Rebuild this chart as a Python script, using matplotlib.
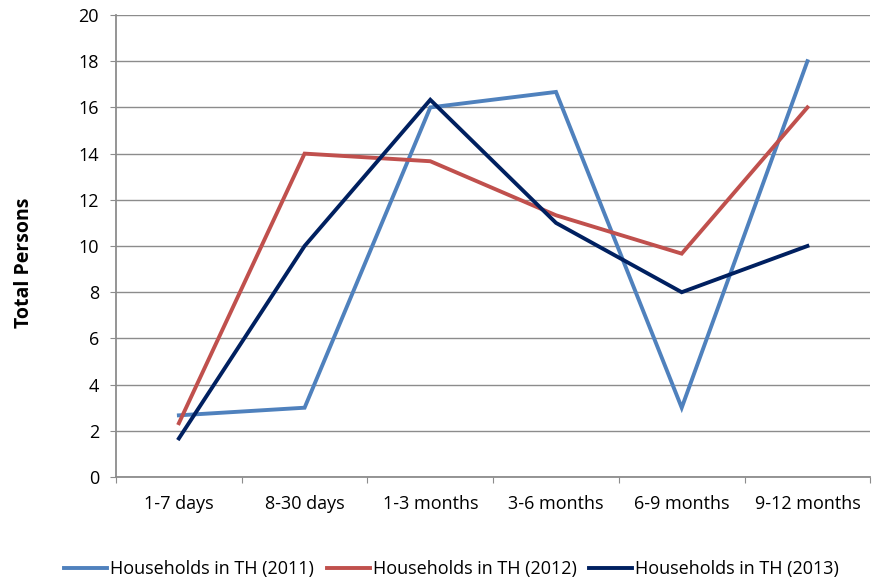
import matplotlib
matplotlib.use("Agg")
import matplotlib.pyplot as plt
import numpy as np

plt.rcParams['font.family'] = ['Open Sans', 'DejaVu Sans']

categories = ["1-7 days", "8-30 days", "1-3 months", "3-6 months", "6-9 months", "9-12 months"]
th_2011 = [2.67, 3.0, 16.0, 16.67, 3.0, 18.0]
th_2012 = [2.33, 14.0, 13.67, 11.33, 9.67, 16.0]
th_2013 = [1.67, 10.0, 16.33, 11.0, 8.0, 10.0]

series = [("Households in TH (2011)", th_2011, "#4F81BD"),
          ("Households in TH (2012)", th_2012, "#C0504D"),
          ("Households in TH (2013)", th_2013, "#002060")]

fig = plt.figure(figsize=(8.75, 5.84), dpi=100)
ax = fig.add_axes([0.1326, 0.1832, 0.862, 0.7911])

x = np.arange(len(categories)) + 0.5
for name, vals, clr in series:
    ax.plot(x, vals, color=clr, lw=2.8, label=name, solid_joinstyle="miter")

ax.set_xlim(0, len(categories))
ax.set_ylim(0, 20)
ax.set_yticks(np.arange(0, 21, 2))
ax.yaxis.grid(True, color="#8c8c8c", lw=1)
ax.set_axisbelow(True)

# category boundaries get the tick marks, labels sit in between
ax.set_xticks(np.arange(0, len(categories) + 1))
ax.set_xticklabels([])
ax.set_xticks(x, minor=True)
ax.set_xticklabels(categories, minor=True)
ax.tick_params(axis="x", which="major", length=4.3, color="#8c8c8c")
ax.tick_params(axis="x", which="minor", length=0, pad=13, labelsize=13)
ax.tick_params(axis="y", length=4.3, color="#8c8c8c", labelsize=13, pad=8)

for s in ["top", "right"]:
    ax.spines[s].set_visible(False)
for s in ["left", "bottom"]:
    ax.spines[s].set_color("#8c8c8c")
    ax.spines[s].set_linewidth(1.3)

ax.set_ylabel("Total Persons", fontweight="bold", fontsize=14, va="center")
ax.yaxis.set_label_coords(-0.1225, 0.464)

fig.legend(loc="center", bbox_to_anchor=(0.516, 0.025), ncol=3, frameon=False,
           fontsize=13, handlelength=2.4, handletextpad=0.15, columnspacing=0.7,
           borderpad=0, borderaxespad=0)

fig.savefig("out.png", dpi=100)
